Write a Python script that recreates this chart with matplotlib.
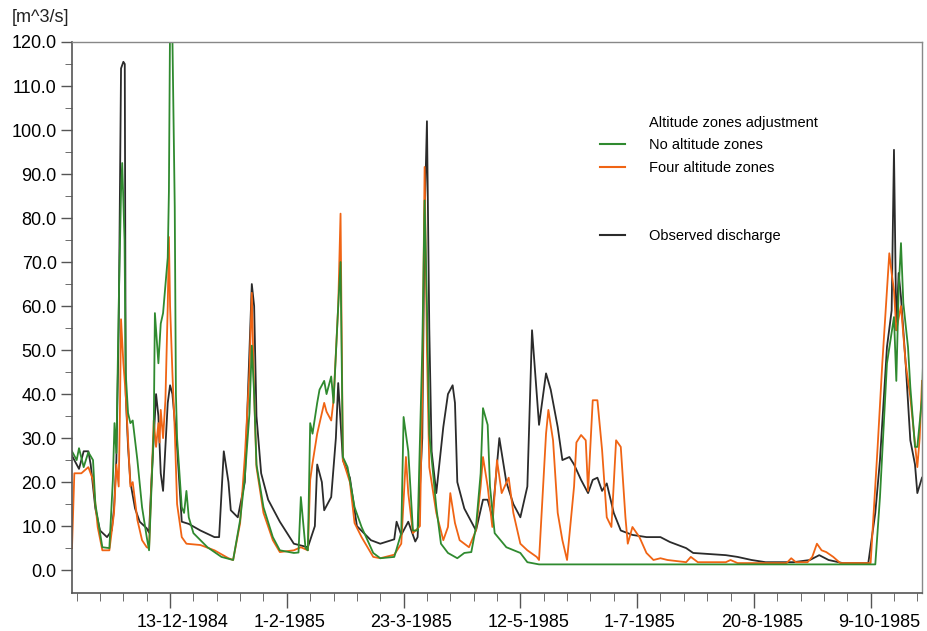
import numpy as np
import matplotlib
matplotlib.use("Agg")
import matplotlib.pyplot as plt
import matplotlib.transforms as mtransforms
from matplotlib.lines import Line2D

plt.rcParams['font.family'] = ['Liberation Sans', 'DejaVu Sans']

# days counted from 1-11-1984, discharge in m^3/s
obs_day = [0, 3, 5, 7, 8, 10, 12, 14, 15, 17, 18, 19, 20, 21, 22, 22.6, 23, 24, 25, 27, 29, 32, 33,
           34, 36, 37, 38, 39, 41, 42, 43, 45, 47, 50, 55, 61, 63, 65, 67, 68, 71, 74, 75, 76, 77, 78, 79,
           81, 84, 89, 95, 101, 104, 105, 107, 108, 111, 113, 114, 116, 119, 122, 128, 132, 138, 139, 141,
           144, 147, 148, 150, 151, 152, 153, 154, 156, 159, 161, 163, 164, 165, 168, 173, 176, 178, 180,
           183, 186, 189, 192, 195, 197, 200, 203, 205, 208, 210, 213, 215, 218, 221, 223, 225, 227, 229,
           232, 235, 240, 246, 252, 256, 263, 266, 280, 285, 291, 297, 309, 316, 320, 324, 330, 341, 344,
           346, 349, 351, 352, 353, 354, 355, 357, 359, 361, 362, 364]
obs_val = [26, 23, 27, 27, 24, 14, 9, 8, 7.5, 9, 14, 25, 55, 114, 115.5, 115, 40, 28, 20, 14, 11, 9.5, 8.5,
           20, 40, 35, 22, 18, 38, 42, 40, 28, 11, 10.5, 9, 7.5, 7.5, 27, 20, 13.6, 12, 20, 35, 50, 65, 60, 35,
           22, 16, 11, 6, 5.2, 10, 24, 20, 13.6, 16.6, 30, 42.5, 25, 21, 10, 6.8, 6, 7, 11, 8,
           11, 6.5, 7.5, 30, 80, 102, 55, 27, 17.5, 32.5, 40, 42, 38, 20, 14, 9, 16, 16, 12,
           30, 20, 15, 12, 19, 54.5, 33, 44.7, 41, 32.5, 25, 25.7, 24, 20.5, 17.5, 20.5, 21, 18, 19.7,
           13, 9, 8, 7.5, 7.5, 6.4, 5, 3.9, 3.4, 3, 2.3, 1.8, 1.8, 2.3, 3.4, 2.3, 1.6, 1.6, 13,
           25, 50.7, 59, 95.5, 54.5, 67.5, 62, 47, 29.5, 24, 17.5, 21]

no_zone_day = [0, 2, 3, 5, 7, 9, 10, 13, 16, 17.5, 18.2, 19, 20, 21, 21.5, 22.5, 23, 24, 25, 26, 28, 30,
               32, 33, 35, 35.5, 37, 38, 39, 41, 41.5, 42, 43, 44, 44.5, 45, 47, 48, 49, 50, 52, 58, 64, 69,
               72, 74, 76, 77, 78, 79, 82, 86, 89, 95, 97, 98, 100, 101, 102, 103, 105, 106, 108, 109, 111,
               112, 114, 115, 116, 118, 121, 124, 129, 132, 138, 141, 142, 144, 146, 148, 150, 151, 152,
               153, 156, 158, 161, 165, 168, 171, 173, 175, 176, 178, 179, 181, 186, 192, 195, 200, 344,
               346, 349, 352, 353, 354, 355, 356, 358, 359, 361, 362, 364, 365]
no_zone_val = [27, 25, 27.7, 23.4, 26.8, 25, 15, 5.2, 5, 20.5, 33.4, 26.6, 60, 86, 92.5, 75, 44.8, 35.7,
               33.4, 34, 25, 14.3, 7.5, 4.5, 31.8, 58.4, 47, 56, 58.4, 71, 86, 125, 121, 82.5, 40, 30, 14.3,
               13, 18, 12, 8.4, 5.2, 3, 2.3, 11.4, 21, 35.7, 51, 40, 24, 14.3, 7.5, 4.5, 3.9, 4, 16.6, 5, 4.5,
               33.4, 31, 38, 41, 43, 40, 44, 38, 60, 70, 25.7, 23.4, 14.3, 9.8, 3.9, 2.7, 3, 8.4, 34.8, 27,
               9, 9, 50, 84, 60, 31, 14.3, 6, 3.9, 2.7, 3.9, 4.1, 9.8, 22, 36.8, 33, 19, 8.4, 5.2, 3.9, 1.8,
               1.3, 1.3, 16.6, 47, 57.5, 43, 63.6, 74.3, 60.7, 50.7, 41.6, 28, 28, 39, 57]

four_zone_day = [0, 1, 4, 7, 9, 11, 13, 16, 18, 19, 20, 20.5, 21, 22, 23, 24, 25, 26, 28, 30, 32, 33, 35,
                 36, 37, 37.5, 38, 39, 40, 41, 41.5, 42, 43, 44, 45, 47, 49, 55, 61, 67, 69, 72, 74, 76, 77,
                 78, 79, 82, 86, 89, 95, 98, 101, 102, 103, 105, 108, 109, 111, 112, 114, 115, 116, 119, 121,
                 124, 129, 132, 138, 141, 143, 144, 146, 149, 150, 151, 152, 153, 156, 159, 161, 162, 164,
                 166, 170, 173, 175, 176, 178, 180, 182, 184, 187, 189, 192, 195, 199, 200, 203, 204, 206,
                 208, 210, 212, 215, 216, 218, 220, 221, 223, 225, 227, 229, 231, 233, 235, 237, 238, 240,
                 243, 246, 249, 252, 255, 263, 265, 268, 280, 282, 285, 306, 308, 310, 315, 317, 319, 321,
                 323, 326, 329, 342, 345, 347, 349, 350, 351, 352, 353, 355, 357, 359, 362, 363, 364]
four_zone_val = [5, 22, 22, 23.4, 20.5, 9.8, 4.5, 4.5, 13, 24, 19, 35, 57, 47, 40, 29.5, 19, 20, 11.4, 6.8,
                 5.2, 5, 34, 28, 33.4, 29, 36.4, 30, 38.6, 60, 75.7, 60, 44.8, 31.8, 15, 7.5, 6, 5.7, 4.5,
                 2.7, 2.3, 10.7, 25.7, 45, 63, 40, 23.4, 13, 6.8, 4.1, 4.5, 5.2, 4.5, 20.5, 24.3, 31, 38, 36,
                 34, 38.6, 60, 81, 25, 20, 10.7, 7.5, 3, 2.7, 3.5, 6, 25.7, 17.5, 8.4, 10, 40, 91.6, 50, 23.4,
                 13, 6.8, 9.8, 17.5, 10.7, 6.8, 5.2, 9, 19, 25.7, 19, 9.8, 25, 17.5, 21, 13, 6, 4.5, 3, 2.3,
                 31, 36.4, 29.5, 13, 6.8, 2.3, 19, 29, 30.7, 29.5, 18, 38.6, 38.6, 27.3, 12, 9.8, 29.5, 28,
                 12, 6, 9.8, 7.5, 3.9, 2.3, 2.7, 2.3, 1.8, 3, 1.8, 1.8, 2.3, 1.6, 1.6, 2.7, 1.8, 1.8, 3, 6,
                 4.5, 4.1, 3, 1.6, 1.6, 28, 47, 63.6, 72, 67.5, 63.6, 54.5, 60, 47, 39.3, 23.4, 30, 43]

tick_days = [42, 92, 142, 192, 242, 292, 342]
tick_labels = ["13-12-1984", "1-2-1985", "23-3-1985", "12-5-1985", "1-7-1985", "20-8-1985", "9-10-1985"]

fig = plt.figure(figsize=(9.27, 6.31), dpi=100)
ax = fig.add_axes([72 / 927, 1 - 593 / 631, 850 / 927, 551 / 631])

ax.plot(obs_day, obs_val, color="#2b2b2b", lw=1.3)
ax.plot(four_zone_day, four_zone_val, color="#f06414", lw=1.3)
ax.plot(no_zone_day, no_zone_val, color="#2f8a2f", lw=1.3)

ax.set_xlim(0, 364)
ax.set_ylim(-5.2, 120)

ax.set_yticks(np.arange(0, 121, 10))
ax.set_yticks(np.arange(5, 120, 10), minor=True)
ax.set_yticklabels([f"{v:.1f}" for v in np.arange(0, 121, 10)])
ax.set_xticks(tick_days)
ax.set_xticklabels(tick_labels)
ax.set_xticks(np.arange(2, 364, 10), minor=True)

ax.tick_params(axis="both", which="major", labelsize=13, color="#555555", width=1.0)
ax.tick_params(axis="y", which="major", length=8, pad=3)
ax.tick_params(axis="y", which="minor", length=5, color="#555555")
ax.tick_params(axis="x", which="major", length=11, pad=4)
ax.tick_params(axis="x", which="minor", length=6, color="#555555")

# the date labels start a bit left of their tick, not centred on it
shift = mtransforms.ScaledTranslation(-33 / 100, 0, fig.dpi_scale_trans)
for lab in ax.get_xticklabels():
    lab.set_horizontalalignment("left")
    lab.set_transform(lab.get_transform() + shift)

for side in ["left", "bottom"]:
    ax.spines[side].set_color("#555555")
    ax.spines[side].set_linewidth(1.2)
for side in ["top", "right"]:
    ax.spines[side].set_color("#888888")
    ax.spines[side].set_linewidth(1.0)

fig.text(12 / 927, 1 - 17 / 631, "[m^3/s]", fontsize=13, va="center", ha="left", color="#222222")

handles = [Line2D([], [], color="none"),
           Line2D([], [], color="#2f8a2f", lw=1.5),
           Line2D([], [], color="#f06414", lw=1.5),
           Line2D([], [], color="none"),
           Line2D([], [], color="none"),
           Line2D([], [], color="#2b2b2b", lw=1.5)]
labels = ["Altitude zones adjustment", "No altitude zones", "Four altitude zones", " ", " ",
          "Observed discharge"]
leg = ax.legend(handles, labels, loc="upper left", bbox_to_anchor=(0.606, 0.89), frameon=False,
                fontsize=10.5, handlelength=1.7, handletextpad=1.65, labelspacing=0.6)

fig.savefig("out.png", dpi=100)
